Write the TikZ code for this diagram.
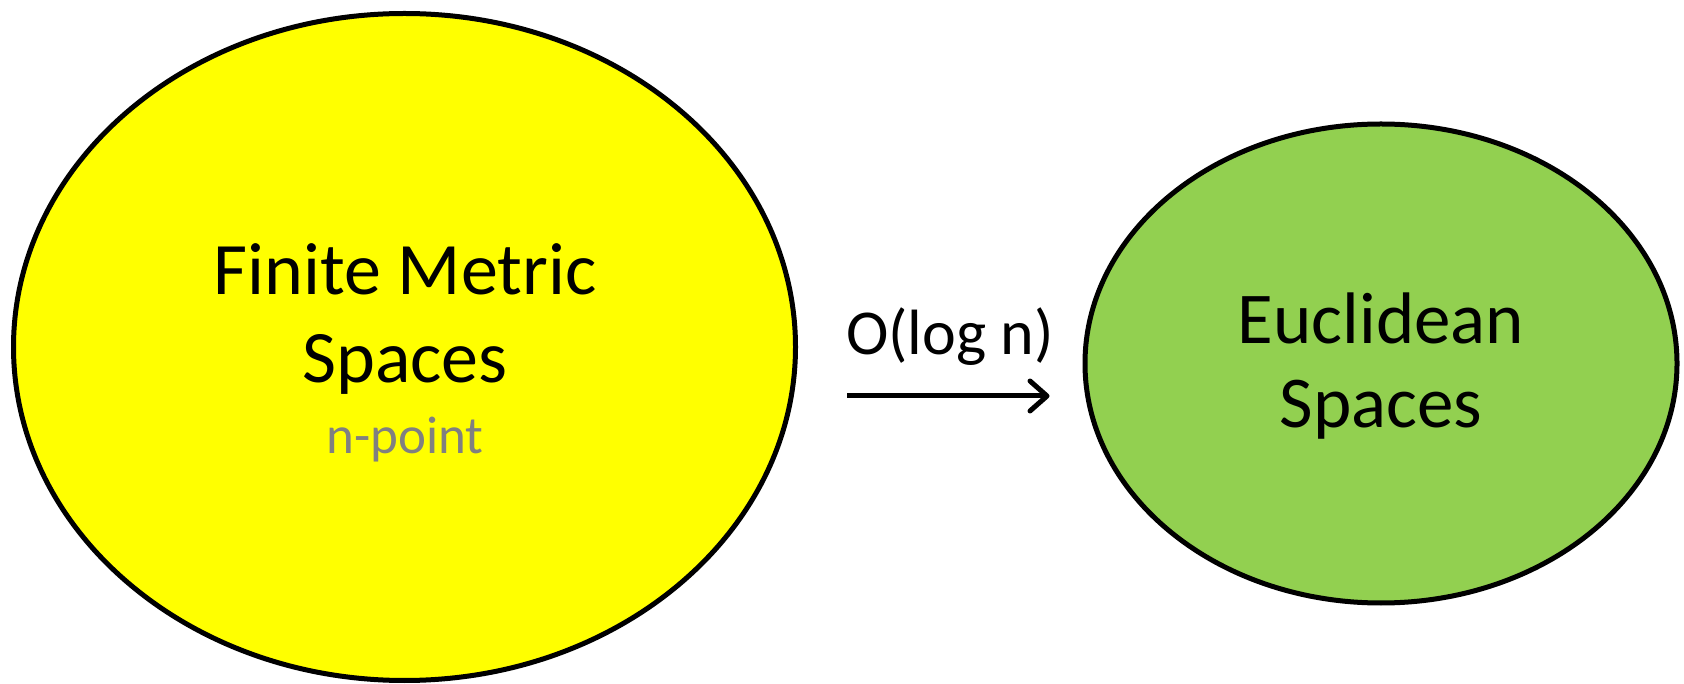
\documentclass[tikz,border=0pt]{standalone}
\usepackage{fontspec}
\setmainfont{Carlito}
\usetikzlibrary{shapes.geometric,arrows.meta}
\definecolor{yel}{HTML}{FFFF00}
\definecolor{grn}{HTML}{92D050}
\definecolor{gry}{HTML}{808080}
\tikzset{
  blob/.style={ellipse, draw=black, line width=5pt, inner sep=0pt},
  big/.style={font=\fontsize{74}{86}\selectfont, anchor=base, inner sep=0pt},
  small/.style={font=\fontsize{53}{64}\selectfont, anchor=base, inner sep=0pt, text=gry},
  arr/.style={line width=5pt, -{Straight Barb[length=17pt,width=30pt,line width=5pt,round]}}
}
\begin{document}
\begin{tikzpicture}[x=1pt,y=1pt]
\useasboundingbox (0,0) rectangle (1684,683);
\node[blob, fill=yel, minimum width=782pt, minimum height=667pt] (L) at (404.5,336) {};
\node[blob, fill=grn, minimum width=592pt, minimum height=479pt] (R) at (1381,319.5) {};
\node[big] (t1) at (405,388) {Finite Metric};
\node[big] (t2) at (405,300) {Spaces};
\node[small] (t3) at (405,229) {n-point};
\node[big, font=\fontsize{73}{86}\selectfont] (t4) at (1381,339) {Euclidean};
\node[big, font=\fontsize{73}{86}\selectfont] (t5) at (1381,255) {Spaces};
\node[big, font=\fontsize{64}{76}\selectfont] (lab) at (950,328) {O(log n)};
\draw[arr] ([xshift=49pt,yshift=-49pt]L.east) -- ([xshift=-33pt,yshift=-32.5pt]R.west);
\end{tikzpicture}
\end{document}
